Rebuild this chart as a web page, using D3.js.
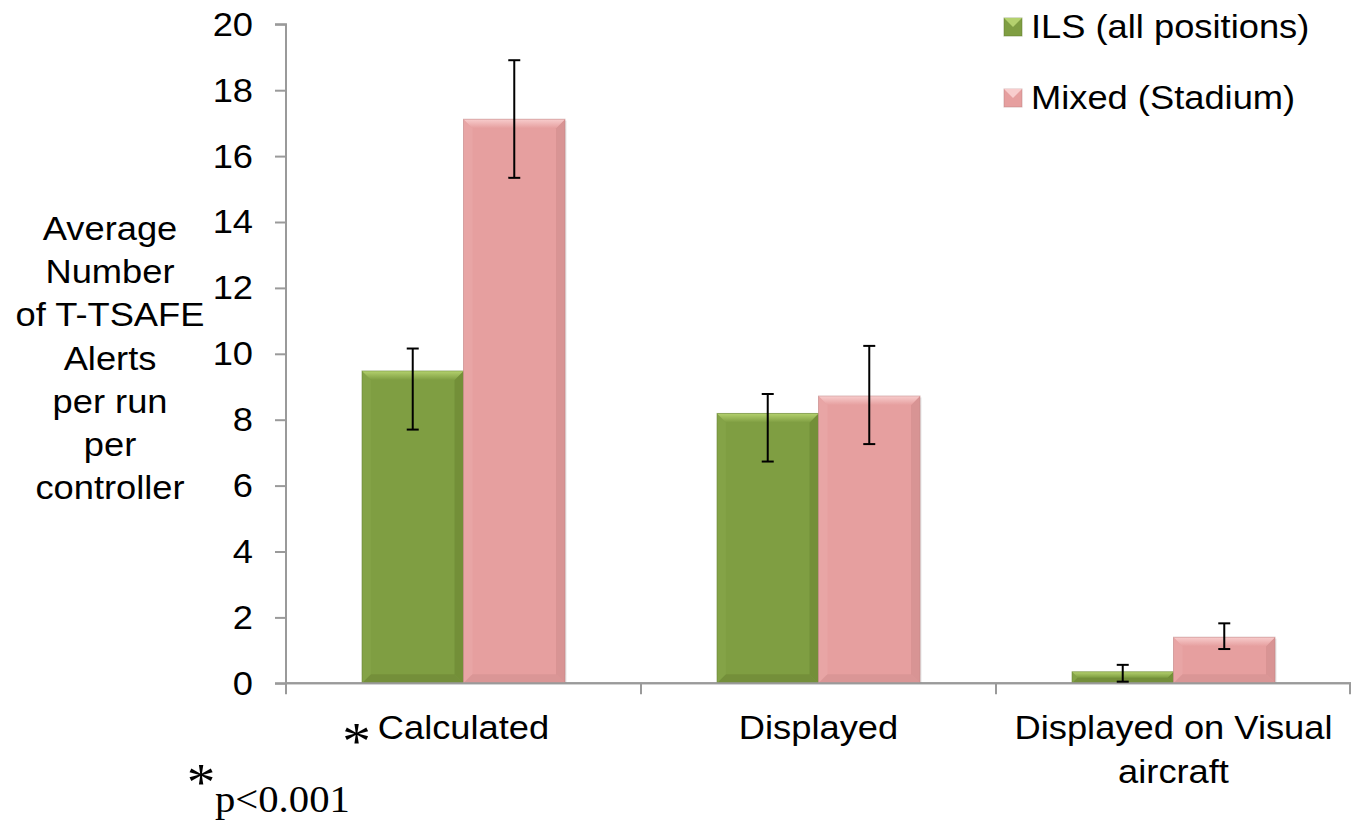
<!DOCTYPE html>
<html>
<head>
<meta charset="utf-8">
<script src="https://cdn.jsdelivr.net/npm/d3@7"></script>
<style>
  html, body { margin: 0; padding: 0; background: #fff; }
  svg { display: block; }
</style>
</head>
<body>
<svg id="chart" width="1351" height="822"></svg>
<script>
// ---- data ----
const categories = ["Calculated", "Displayed", "Displayed on Visual aircraft"];
const categoryLines = [["Calculated"], ["Displayed"], ["Displayed on Visual", "aircraft"]];
const seriesNames = ["ILS (all positions)", "Mixed (Stadium)"];
const ilsValues   = [9.48, 8.19, 0.35];
const mixedValues = [17.12, 8.72, 1.40];
const ilsErrLow    = [7.70, 6.73, 0.05];
const ilsErrHigh   = [10.16, 8.78, 0.56];
const mixedErrLow  = [15.34, 7.26, 1.04];
const mixedErrHigh = [18.91, 10.24, 1.82];
const yTicks = [0, 2, 4, 6, 8, 10, 12, 14, 16, 18, 20];
const yTitleLines = ["Average", "Number", "of T-TSAFE", "Alerts", "per run", "per", "controller"];
const significant = [true, false, false];
const footnote = "p<0.001";

// ---- styles ----
const palette = {
  base:   ["#7f9e42", "#e69f9f"],
  top:    ["#b4d16e", "#f8cdcd"],
  left:   ["#84a347", "#e8a5a5"],
  right:  ["#738f38", "#d89494"],
  bottom: ["#748f3a", "#da9696"],
  edge:   ["#5e7a2c", "#b98080"]
};
const sx = 1.1;           // horizontal text stretch of the original picture
const sansFont = "Liberation Sans, Arial, sans-serif";
const serifFont = "Liberation Serif, Times New Roman, serif";

const svg = d3.select("#chart");
const margin = { left: 286, right: 0, top: 24.3, bottom: 822 - 683.3 };
const W = 1351, H = 822;

const defs = svg.append("defs");
[0, 1].forEach(i => {
  const lg = defs.append("linearGradient").attr("id", "topgrad" + i)
    .attr("x1", 0).attr("y1", 0).attr("x2", 0).attr("y2", 1);
  lg.append("stop").attr("offset", "0%").attr("stop-color", palette.top[i]);
  lg.append("stop").attr("offset", "100%").attr("stop-color", palette.base[i]);
});

const y = d3.scaleLinear().domain([0, 20]).range([H - margin.bottom, margin.top]);
const x0 = d3.scaleBand().domain(categories).range([margin.left, W - margin.right])
  .paddingInner(0.428).paddingOuter(0.214);
const x1 = d3.scaleBand().domain(seriesNames).range([0, x0.bandwidth()]).padding(0);

function stretchedText(g, tx, ty, str, opts) {
  const t = g.append("g").attr("transform", `translate(${tx},${ty}) scale(${sx},1)`)
    .append("text")
    .attr("x", 0).attr("y", 0)
    .attr("text-anchor", opts.anchor || "middle")
    .attr("font-family", opts.font || sansFont)
    .attr("font-size", opts.size || 33)
    .attr("fill", "#000")
    .text(str);
  if (opts.baseline) t.attr("dominant-baseline", opts.baseline);
  return t;
}

// ---- y axis ----
const yAxis = d3.axisLeft(y).tickValues(yTicks).tickSize(11).tickPadding(0).tickFormat(d3.format("d"));
const yg = svg.append("g").attr("transform", `translate(${margin.left},0)`).call(yAxis);
yg.select(".domain").attr("stroke", "#9a9a9a").attr("stroke-width", 2)
  .attr("d", `M-11,${y(20)}H0V${y(0)}`);
yg.selectAll(".tick line").attr("stroke", "#9a9a9a").attr("stroke-width", 2);
yg.selectAll(".tick text").remove();
yTicks.forEach(v => {
  stretchedText(svg, margin.left - 33, y(v), String(v), { anchor: "end", baseline: "central" });
});

// ---- x axis ----
const xg = svg.append("g").attr("transform", `translate(0,${y(0)})`);
xg.append("line").attr("x1", margin.left - 11).attr("x2", W).attr("y1", 0).attr("y2", 0)
  .attr("stroke", "#9a9a9a").attr("stroke-width", 2);
const step = x0.step();
const bounds = categories.map(c => x0(c) - (step - x0.bandwidth()) / 2).concat([x0(categories[2]) + x0.bandwidth() + (step - x0.bandwidth()) / 2]);
xg.selectAll(".xtick").data(bounds).join("line")
  .attr("x1", d => Math.min(d, W - 1)).attr("x2", d => Math.min(d, W - 1))
  .attr("y1", 0).attr("y2", 11)
  .attr("stroke", "#9a9a9a").attr("stroke-width", 2);

categories.forEach((c, i) => {
  const cx = x0(c) + x0.bandwidth() / 2;
  categoryLines[i].forEach((ln, j) => {
    stretchedText(svg, cx, y(0) + 56 + j * 44, ln, {});
  });
  if (significant[i]) {
    stretchedText(svg, cx - 107, y(0) + 76, "*", { font: serifFont, size: 52 });
  }
});

// ---- bars ----
const data = categories.map((c, i) => ({
  cat: c,
  vals: [
    { s: 0, v: ilsValues[i], lo: ilsErrLow[i], hi: ilsErrHigh[i] },
    { s: 1, v: mixedValues[i], lo: mixedErrLow[i], hi: mixedErrHigh[i] }
  ]
}));

const bars = svg.append("g");
data.forEach(d => {
  d.vals.forEach(b => {
    const bx = x0(d.cat) + x1(seriesNames[b.s]);
    const bw = x1.bandwidth();
    const by = y(b.v);
    const bh = y(0) - by;
    const bv = Math.min(9, bh / 2);
    const g = bars.append("g");
    // shadow
    g.append("rect").attr("x", bx + 1.5).attr("y", by + 1.5).attr("width", bw).attr("height", bh - 1.5)
      .attr("fill", "#000").attr("opacity", 0.1);
    g.append("rect").attr("x", bx).attr("y", by).attr("width", bw).attr("height", bh)
      .attr("fill", palette.base[b.s]);
    // bevels
    g.append("polygon").attr("points", [[bx, by], [bx + bv, by + bv], [bx + bv, by + bh - bv], [bx, by + bh]].join(" "))
      .attr("fill", palette.left[b.s]);
    g.append("polygon").attr("points", [[bx + bw, by], [bx + bw - bv, by + bv], [bx + bw - bv, by + bh - bv], [bx + bw, by + bh]].join(" "))
      .attr("fill", palette.right[b.s]);
    g.append("polygon").attr("points", [[bx, by + bh], [bx + bv, by + bh - bv], [bx + bw - bv, by + bh - bv], [bx + bw, by + bh]].join(" "))
      .attr("fill", palette.bottom[b.s]);
    g.append("polygon").attr("points", [[bx, by], [bx + bw, by], [bx + bw - bv, by + bv], [bx + bv, by + bv]].join(" "))
      .attr("fill", `url(#topgrad${b.s})`);
    g.append("rect").attr("x", bx).attr("y", by).attr("width", bw).attr("height", bh)
      .attr("fill", "none").attr("stroke", palette.edge[b.s]).attr("stroke-opacity", 0.45).attr("stroke-width", 1);
  });
});

// redraw baseline over bars
svg.append("line").attr("x1", margin.left).attr("x2", W).attr("y1", y(0)).attr("y2", y(0))
  .attr("stroke", "#9a9a9a").attr("stroke-width", 2);

// ---- error bars ----
const eg = svg.append("g").attr("stroke", "#000").attr("stroke-width", 2);
data.forEach(d => {
  d.vals.forEach(b => {
    const cx = x0(d.cat) + x1(seriesNames[b.s]) + x1.bandwidth() / 2;
    eg.append("line").attr("x1", cx).attr("x2", cx).attr("y1", y(b.lo)).attr("y2", y(b.hi));
    eg.append("line").attr("x1", cx - 6).attr("x2", cx + 6).attr("y1", y(b.lo)).attr("y2", y(b.lo));
    eg.append("line").attr("x1", cx - 6).attr("x2", cx + 6).attr("y1", y(b.hi)).attr("y2", y(b.hi));
  });
});

// ---- y title ----
yTitleLines.forEach((ln, i) => {
  stretchedText(svg, 110, 240 + i * 43.2, ln, {});
});

// ---- legend ----
const legend = svg.append("g");
seriesNames.forEach((s, i) => {
  const cy = 27 + i * 71;
  const mx = 1004, ms = 18;
  legend.append("rect").attr("x", mx).attr("y", cy - ms / 2).attr("width", ms).attr("height", ms)
    .attr("fill", palette.base[i]).attr("stroke", palette.edge[i]).attr("stroke-opacity", 0.5);
  legend.append("polygon").attr("points", [[mx, cy - ms / 2], [mx + ms, cy - ms / 2], [mx + ms / 2, cy]].join(" "))
    .attr("fill", palette.top[i]);
  stretchedText(legend, 1031, cy, s, { anchor: "start", baseline: "central" });
});

// ---- footnote ----
stretchedText(svg, 201, 812, "*", { font: serifFont, size: 52, anchor: "middle" }).attr("dy", -12);
stretchedText(svg, 215, 812, footnote, { font: serifFont, size: 37, anchor: "start" });
</script>
</body>
</html>
